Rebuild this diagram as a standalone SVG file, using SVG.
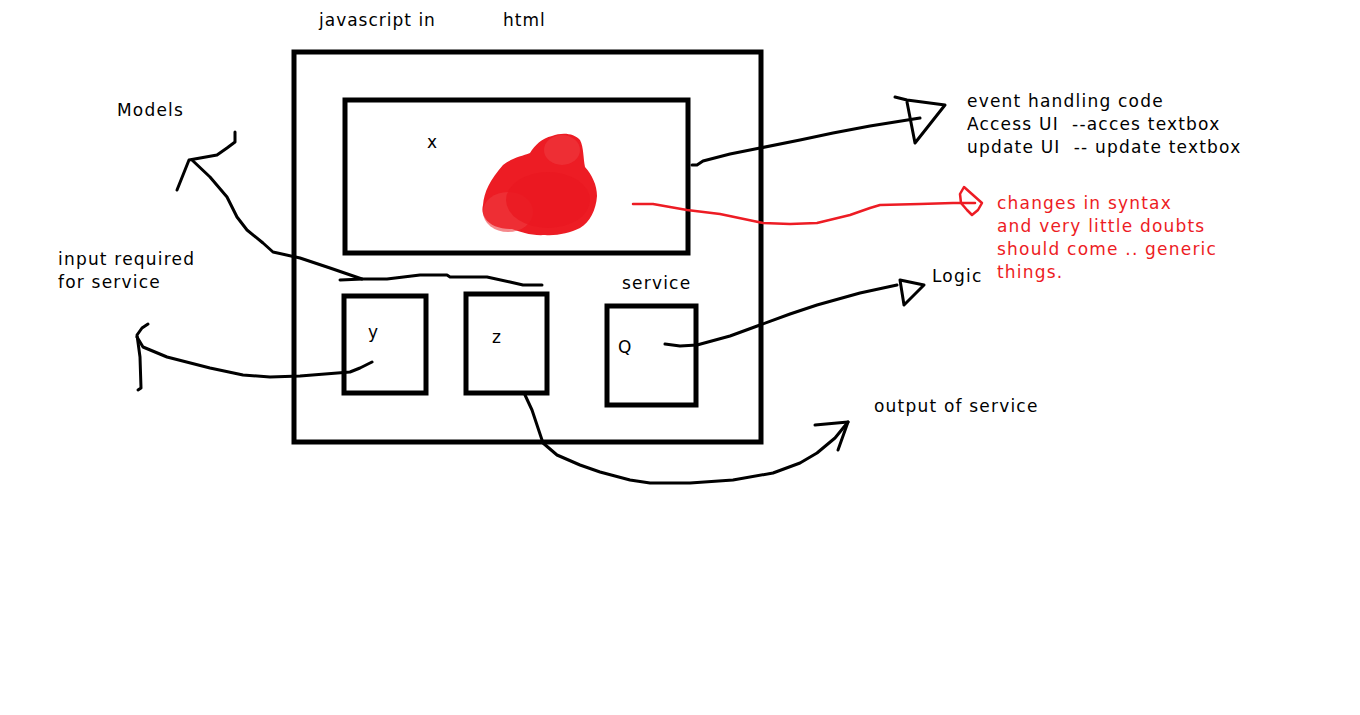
<svg xmlns="http://www.w3.org/2000/svg" width="1360" height="715" viewBox="0 0 1360 715">
<style>
text{font-family:"DejaVu Sans","Liberation Sans",sans-serif;font-size:17px;fill:#000;letter-spacing:1.2px;white-space:pre}
.red{fill:#ED1C24}
.box{fill:none;stroke:#000;stroke-width:5}
.ln{fill:none;stroke:#000;stroke-width:3;stroke-linecap:round;stroke-linejoin:round}
.rl{fill:none;stroke:#ED1C24;stroke-width:2.5;stroke-linecap:round;stroke-linejoin:round}
</style>
<rect width="1360" height="715" fill="#fff"/>
<g id="title">
<text x="319" y="26" style="letter-spacing:1px">javascript in</text>
<text x="503" y="26" style="letter-spacing:1px">html</text>
</g>
<g id="outer"><rect class="box" x="294" y="52" width="467" height="390"/></g>
<g id="nodeX">
<rect class="box" x="345" y="100" width="343" height="153"/>
<text x="427" y="148">x</text>
<g fill="#ED1C24">
<path d="M483,205 C484,192 490,180 503,165 C512,158 522,156 530,153 C535,145 542,138 552,136 C562,132 574,133 580,140 C584,148 583,158 585,167 C592,175 597,185 597,196 C596,210 590,222 580,228 C570,233 556,236 545,235 C532,236 520,232 512,229 C500,229 490,226 485,218 C482,213 482,209 483,205 Z"/>
<ellipse cx="508" cy="212" rx="25" ry="20" fill="#EF3A40" opacity="0.6"/>
<ellipse cx="562" cy="150" rx="18" ry="15" fill="#EF3A40" opacity="0.6"/>
<ellipse cx="548" cy="200" rx="42" ry="28" fill="#EA1820" opacity="0.8"/>
</g>
</g>
<g id="nodeY"><rect class="box" x="344" y="296" width="82" height="97"/><text x="368" y="338">y</text></g>
<g id="nodeZ"><rect class="box" x="466" y="294" width="81" height="99"/><text x="492" y="343">z</text></g>
<g id="nodeQ"><rect class="box" x="607" y="306" width="89" height="99"/><text x="618" y="353">Q</text><text x="622" y="289">service</text></g>
<g id="labels">
<text x="117" y="116">Models</text>
<text x="58" y="265">input required</text>
<text x="58" y="288">for service</text>
<text x="967" y="107">event handling code</text>
<text x="967" y="130">Access UI  --acces textbox</text>
<text x="967" y="153">update UI  -- update textbox</text>
<text x="932" y="282">Logic</text>
<text x="874" y="412">output of service</text>
<text class="red" x="997" y="209">changes in syntax</text>
<text class="red" x="997" y="232">and very little doubts</text>
<text class="red" x="997" y="255">should come .. generic</text>
<text class="red" x="997" y="278">things.</text>
</g>
<g id="connectors">
<path class="ln" d="M692,165 L697,165 L703,161 L730,154 L760,148 L800,140 L833,133 L870,126 L920,118"/>
<path class="ln" d="M895,97 L907,100 L945,105 L915,143 L907,102"/>
<path class="rl" d="M633,204 L653,204 L687,210 L720,214 L763,223 L790,224 L817,223 L850,215 L870,208 L880,205 L920,204 L953,203 L975,203"/>
<path class="rl" d="M960,194 L964,187 L973,195 L982,203 L978,210 L972,215 L967,210 L961,203 Z"/>
<path class="ln" d="M665,344 L680,346 L697,345 L730,336 L760,325 L790,314 L817,305 L860,293 L897,285"/>
<path class="ln" d="M900,280 L924,285 L904,305 L900,280"/>
<path class="ln" d="M525,395 L532,410 L537,425 L543,443 L557,455 L580,465 L600,472 L630,480 L650,483 L690,483 L733,480 L773,473 L800,463 L817,453 L835,438 L848,422"/>
<path class="ln" d="M815,425 L848,422 L838,450"/>
<path class="ln" d="M340,280 L363,279 L387,279 L420,275 L447,275 L450,277 L487,277 L510,282 L523,285 L542,285"/>
<path class="ln" d="M362,279 L330,268 L300,258 L273,252 L263,243 L247,230 L237,217 L227,197 L210,177 L192,160"/>
<path class="ln" d="M177,190 L185,170 L189,160 L217,155 L227,148 L235,142 L235,132"/>
<path class="ln" d="M372,362 L360,368 L350,372 L300,376 L270,377 L243,375 L210,368 L167,357 L143,347 L137,337"/>
<path class="ln" d="M148,324 L142,328 L137,335 L140,357 L141,388 L138,390"/>
</g>
</svg>
